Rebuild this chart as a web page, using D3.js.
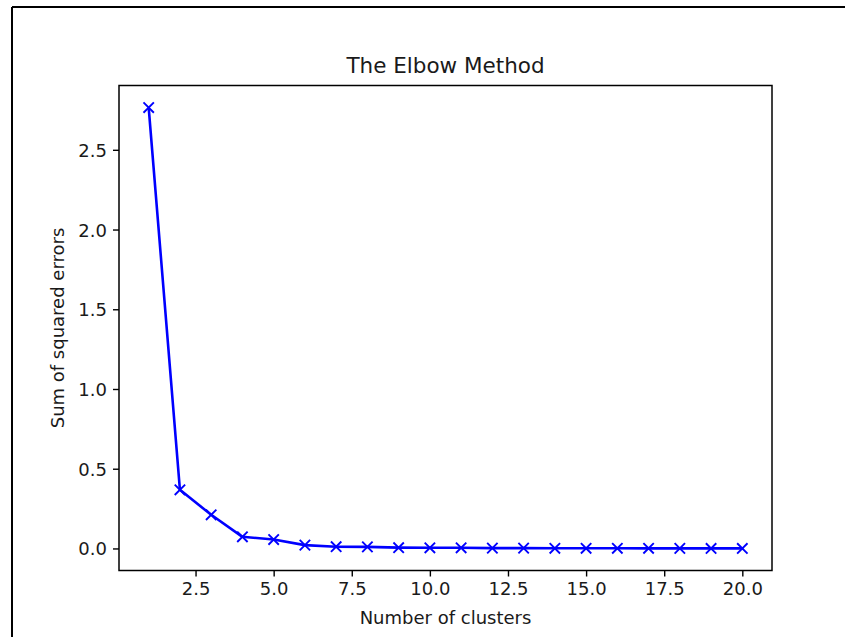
<!DOCTYPE html>
<html>
<head>
<meta charset="utf-8">
<script src="https://cdn.jsdelivr.net/npm/d3@7"></script>
<style>
  html, body { margin: 0; padding: 0; background: #fff; }
  svg { display: block; }
  text { font-family: "DejaVu Sans", sans-serif; fill: #1a1a1a; }
</style>
</head>
<body>
<svg id="chart" width="845" height="637"></svg>
<script>
// Data
const clusters = [1, 2, 3, 4, 5, 6, 7, 8, 9, 10, 11, 12, 13, 14, 15, 16, 17, 18, 19, 20];
const sse = [2.765, 0.368, 0.211, 0.073, 0.056, 0.021, 0.011, 0.010, 0.005, 0.004, 0.004, 0.002, 0.002, 0.001, 0.001, 0.001, 0.0008, 0.0005, 0.0003, 0.0002];
const xTicks = [2.5, 5.0, 7.5, 10.0, 12.5, 15.0, 17.5, 20.0];
const yTicks = [0.0, 0.5, 1.0, 1.5, 2.0, 2.5];
const title = "The Elbow Method";
const xLabel = "Number of clusters";
const yLabel = "Sum of squared errors";

const svg = d3.select("#chart");
const W = 845, H = 637;
const plot = { left: 119, right: 772, top: 85.5, bottom: 570.5 };

// outer frame (top and left edges)
svg.append("line").attr("x1", 12).attr("x2", W).attr("y1", 7).attr("y2", 7)
  .attr("stroke", "#000").attr("stroke-width", 2);
svg.append("line").attr("x1", 12).attr("x2", 12).attr("y1", 7).attr("y2", H)
  .attr("stroke", "#000").attr("stroke-width", 2);

const xMin = d3.min(clusters), xMax = d3.max(clusters);
const xPad = (xMax - xMin) * 0.05;
const yMin = 0, yMax = d3.max(sse);
const yPad = (yMax - yMin) * 0.05;

const x = d3.scaleLinear().domain([xMin - xPad, xMax + xPad]).range([plot.left, plot.right]);
const y = d3.scaleLinear().domain([yMin - yPad, yMax + yPad]).range([plot.bottom, plot.top]);

// axes
const xAxis = svg.append("g").attr("transform", `translate(0,${plot.bottom})`)
  .call(d3.axisBottom(x).tickValues(xTicks).tickFormat(d3.format(".1f")).tickSize(6).tickPadding(6).tickSizeOuter(0));
const yAxis = svg.append("g").attr("transform", `translate(${plot.left},0)`)
  .call(d3.axisLeft(y).tickValues(yTicks).tickFormat(d3.format(".1f")).tickSize(6).tickPadding(6).tickSizeOuter(0));
[xAxis, yAxis].forEach(g => {
  g.select(".domain").remove();
  g.selectAll(".tick line").attr("stroke", "#000").attr("stroke-width", 1.4);
  g.selectAll(".tick text").attr("font-size", 18).style("fill", "#1a1a1a")
    .attr("font-family", "DejaVu Sans, sans-serif");
});
yAxis.selectAll(".tick text").attr("dy", "0.36em");

// spines
svg.append("rect").attr("x", plot.left).attr("y", plot.top)
  .attr("width", plot.right - plot.left).attr("height", plot.bottom - plot.top)
  .attr("fill", "none").attr("stroke", "#000").attr("stroke-width", 1.5);

// line
const pts = clusters.map((c, i) => [c, sse[i]]);
svg.append("path").datum(pts)
  .attr("fill", "none").attr("stroke", "#0000ff").attr("stroke-width", 2.6)
  .attr("stroke-linejoin", "round")
  .attr("d", d3.line().x(d => x(d[0])).y(d => y(d[1])));

// x markers
const m = 5.2;
svg.append("g").selectAll("path").data(pts).join("path")
  .attr("d", d => {
    const cx = x(d[0]), cy = y(d[1]);
    return `M${cx - m},${cy - m}L${cx + m},${cy + m}M${cx - m},${cy + m}L${cx + m},${cy - m}`;
  })
  .attr("stroke", "#0000ff").attr("stroke-width", 1.9).attr("fill", "none");

// texts
svg.append("text").attr("x", (plot.left + plot.right) / 2).attr("y", 72.5)
  .attr("text-anchor", "middle").attr("font-size", 21.5).text(title);
svg.append("text").attr("x", (plot.left + plot.right) / 2).attr("y", 624)
  .attr("text-anchor", "middle").attr("font-size", 18).text(xLabel);
svg.append("text").attr("transform", `translate(64,${(plot.top + plot.bottom) / 2}) rotate(-90)`)
  .attr("text-anchor", "middle").attr("font-size", 18).text(yLabel);
</script>
</body>
</html>
